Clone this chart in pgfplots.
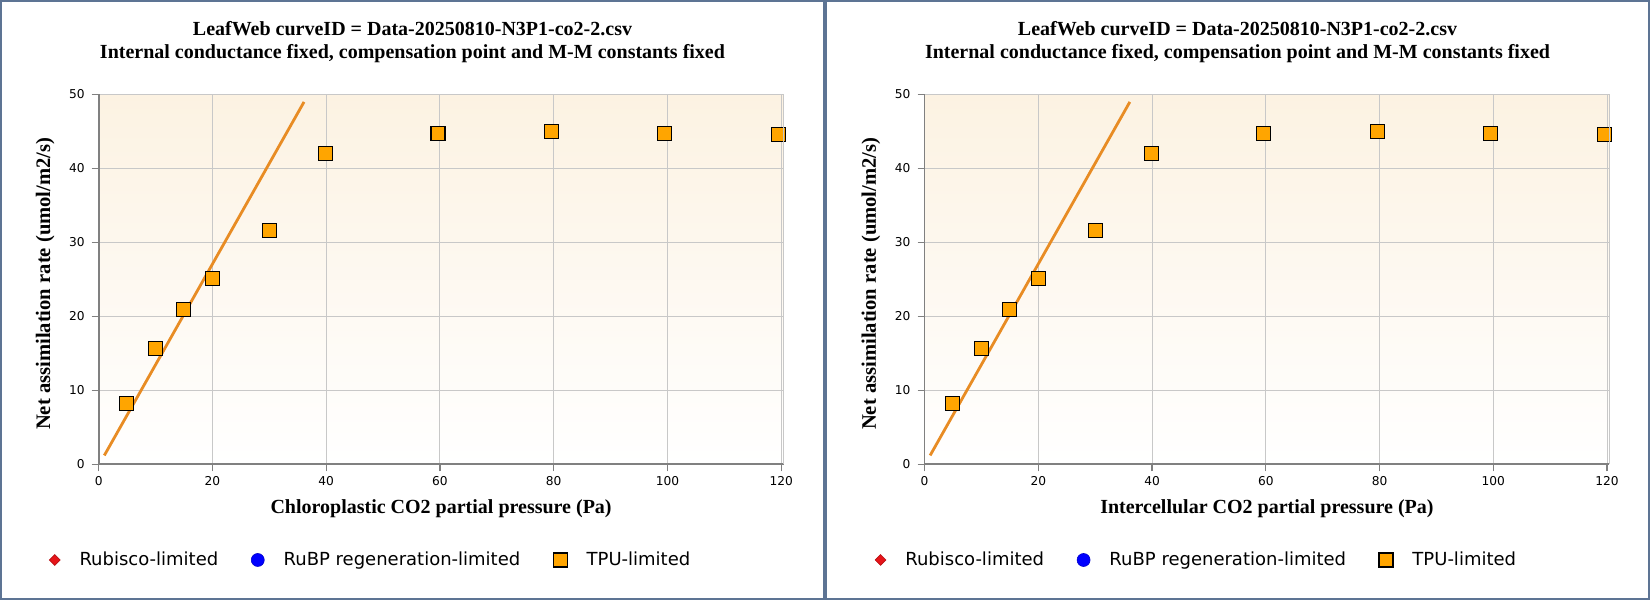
\documentclass[border=0pt]{standalone}
\usepackage{fontspec}
\setmainfont{Liberation Serif}
\newfontfamily\sansf{DejaVu Sans}
\usepackage{pgfplots}
\usepackage{pgfplotstable}
\pgfplotsset{compat=1.18}
\definecolor{framec}{RGB}{93,116,148}
\definecolor{bgtop}{RGB}{252,242,226}
\definecolor{gridc}{RGB}{200,200,200}
\definecolor{axc}{RGB}{128,128,128}
\definecolor{lineor}{RGB}{232,140,36}
\definecolor{sqor}{RGB}{255,165,0}
\definecolor{rubred}{RGB}{230,20,25}

\pgfplotstableread{
x y
4.86 8.24
9.96 15.68
14.96 20.95
19.99 25.14
30.0 31.6
39.87 42.03
59.65 44.73
79.65 45.0
99.5 44.73
119.5 44.6
}\tpudata

\pgfplotstableread{
x y
0.99 1.2
36.1 48.97
}\rubline

\pgfplotsset{
  leafaxis/.style={
    scale only axis, width=342.4pt, height=185pt,
    anchor=south west,
    xmin=0, xmax=120.4, ymin=0, ymax=50,
    xtick={0,20,...,120}, ytick={0,10,...,50},
    grid=major, major grid style={gridc, line width=0.5pt},
    axis line style={draw=none},
    tick style={axc, line width=0.6pt},
    tick align=outside, major tick length=3.5pt,
    xtick pos=left, ytick pos=left,
    /pgf/number format/assume math mode=true,
    ticklabel style={font=\sansf\fontsize{6.1}{7}\selectfont, text=black},
    xticklabel style={yshift=1pt},
    axis background/.style={top color=bgtop, bottom color=white},
    xlabel style={font=\bfseries\fontsize{10}{12}\selectfont, at={(axis description cs:0.5,-0.1343)}, anchor=base},
    ylabel style={font=\bfseries\fontsize{10.3}{12}\selectfont, at={(axis description cs:-0.0711,0.488)}, anchor=base},
    ylabel={Net assimilation rate (umol/m2/s)},
    legend columns=3,
    legend cell align=left,
    legend image code/.code={\draw[##1] plot coordinates {(0pt,0pt)};},
    legend style={draw=none, fill=none, inner sep=0pt,
      at={(axis description cs:-0.0726,-0.2586)}, anchor=west,
      font=\sansf\fontsize{9}{11}\selectfont,
      nodes={inner sep=0pt},
      /tikz/every odd column/.append style={column sep=9.7pt},
      /tikz/every even column/.append style={column sep=16.5pt}},
    after end axis/.code={
      \draw[axc, line width=0.8pt] (rel axis cs:0,1) -- (rel axis cs:0,0) -- (rel axis cs:1,0);
      \draw[gridc, line width=0.5pt] (rel axis cs:1,0) -- (rel axis cs:1,1);
    },
  },
}

\newcommand{\leafcontent}{%
  \addlegendimage{only marks, mark=square*, mark size=1.9pt, mark options={rotate=45, fill=rubred, draw=rubred!80!black, line width=0.3pt}}
  \addlegendentry{Rubisco-limited}
  \addlegendimage{only marks, mark=*, mark size=3.25pt, mark options={fill=blue, draw=blue!80!black, line width=0.3pt}}
  \addlegendentry{RuBP regeneration-limited}
  \addplot[lineor, line width=1.4pt, forget plot] table {\rubline};
  \addplot[only marks, mark=square*, mark size=3.5pt, mark options={fill=sqor, draw=black, line width=0.6pt}] table {\tpudata};
  \addlegendentry{TPU-limited}
}

\begin{document}
\begin{tikzpicture}
\useasboundingbox (0,0) rectangle (825pt,300pt);
\fill[white] (0,0) rectangle (825pt,300pt);
\draw[framec, line width=1.2pt] (0.6pt,0.6pt) rectangle (411.9pt,299.4pt);
\draw[framec, line width=1.2pt] (413.1pt,0.6pt) rectangle (824.4pt,299.4pt);

\node[anchor=base, font=\bfseries\fontsize{10}{12}\selectfont] at (206.25pt,282.15pt) {LeafWeb curveID = Data-20250810-N3P1-co2-2.csv};
\node[anchor=base, font=\bfseries\fontsize{10}{12}\selectfont] at (206.25pt,270.5pt) {Internal conductance fixed, compensation point and M-M constants fixed};
\node[anchor=base, font=\bfseries\fontsize{10}{12}\selectfont] at (618.75pt,282.15pt) {LeafWeb curveID = Data-20250810-N3P1-co2-2.csv};
\node[anchor=base, font=\bfseries\fontsize{10}{12}\selectfont] at (618.75pt,270.5pt) {Internal conductance fixed, compensation point and M-M constants fixed};

\begin{axis}[leafaxis, at={(49.35pt,67.85pt)}, xlabel={Chloroplastic CO2 partial pressure (Pa)}]
\leafcontent
\end{axis}

\begin{axis}[leafaxis, at={(462.25pt,67.85pt)}, xlabel={Intercellular CO2 partial pressure (Pa)}]
\leafcontent
\end{axis}
\end{tikzpicture}
\end{document}
